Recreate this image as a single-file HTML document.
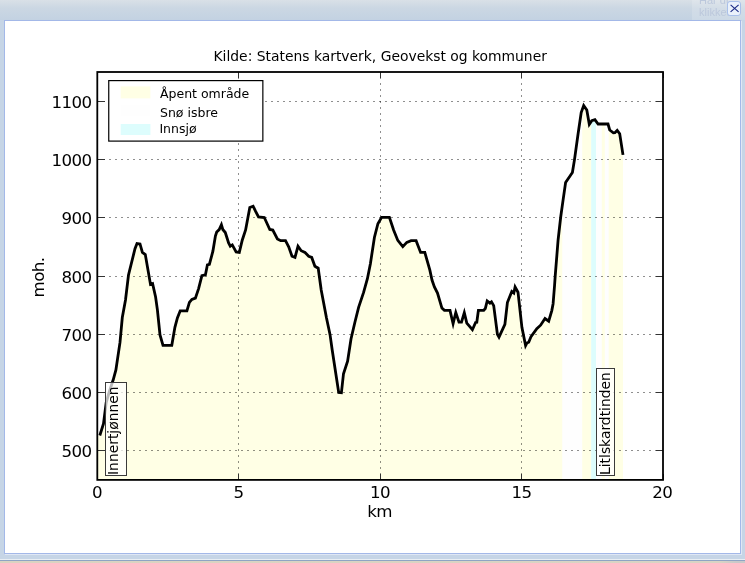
<!DOCTYPE html>
<html lang="no"><head><meta charset="utf-8"><title>Høydeprofil</title>
<style>
html,body{margin:0;padding:0}
body{width:745px;height:563px;overflow:hidden;position:relative;background:#c8d6e5;font-family:"DejaVu Sans","Liberation Sans",sans-serif}
#top{position:absolute;left:0;top:0;width:745px;height:20px;background:linear-gradient(to bottom,#d9e0e7 0,#cbd7e3 8px,#c3d2e2 20px)}
#frame{position:absolute;left:0;top:20px;width:745px;height:540px;background:#c6d5e6}
#bot{position:absolute;left:0;top:559px;width:745px;height:4px;background:linear-gradient(to bottom,#e8eef4 0,#e8eef4 1px,#8ea4c4 1px,#8ea4c4 2px,transparent 2px),linear-gradient(to right,#dad3c1 0,#d8d4c4 720px,#c9c9c9 736px)}
#win{position:absolute;left:4px;top:20px;width:735px;height:532px;background:#fff;border:1px solid #a3b8e8;box-shadow:1px 1px 0 #dfe7f5}
#hint{position:absolute;left:699px;top:-6.5px;font-family:"Liberation Sans",sans-serif;font-size:11px;line-height:12px;color:#bcc8dc;width:30px;overflow:hidden;white-space:nowrap}
#close{position:absolute;left:727px;top:1px;width:12px;height:13px;border:1px solid #a9c0ea;border-radius:3px;background:#eaf1fb}
#close svg{position:absolute;left:0;top:0}
svg text{font-family:"DejaVu Sans","Liberation Sans",sans-serif;fill:#000}
</style></head><body>
<div id="top"></div><div id="frame"></div><div id="bot"></div>
<div style="position:absolute;left:692px;top:0;width:53px;height:20px;background:rgba(255,255,255,0.16)"></div>
<div id="hint">Har du<br>klikket</div>
<div id="win"></div>
<div id="close"><svg width="12" height="12" viewBox="0 0 12 12" style="overflow:visible"><path d="M2.6 2.9 L10.6 9.9 M10.6 2.9 L2.6 9.9" stroke="#1b2a86" stroke-width="1.15" fill="none"/></svg></div>
<svg id="chart" width="745" height="563" viewBox="0 0 745 563" style="position:absolute;left:0;top:0">
<g>
<polygon points="97.0,480.0 97.0,435.5 99.8,435.5 103.5,423.7 106.2,402.5 109.2,392.0 113.3,379.5 115.9,369.9 120.0,342.4 122.3,317.5 125.5,300.0 128.5,275.0 135.0,248.7 137.0,243.5 140.0,243.9 142.4,252.4 145.3,254.6 150.5,284.4 152.6,283.6 155.6,297.0 157.4,309.9 160.0,335.0 163.0,345.3 171.8,345.3 174.9,327.3 177.4,318.0 180.2,310.8 186.9,310.8 189.4,302.4 191.9,299.4 195.4,298.1 198.6,288.6 201.9,275.7 205.4,274.9 207.4,264.9 209.4,264.4 212.9,251.2 215.4,236.0 216.7,232.0 219.2,229.6 221.4,224.7 222.8,229.5 225.3,232.5 228.6,242.9 230.3,246.2 232.3,244.9 236.1,251.9 239.3,252.4 242.3,240.0 245.6,230.0 249.8,207.5 253.1,206.2 255.5,211.2 258.5,217.0 264.3,217.5 269.8,229.5 272.8,230.0 277.4,239.0 280.7,240.7 285.5,240.7 288.7,246.9 292.0,256.2 295.0,257.4 298.0,246.2 301.2,250.7 305.0,252.4 308.7,256.2 311.7,257.4 314.9,266.2 318.2,268.2 321.2,289.9 326.5,318.0 330.0,334.4 332.2,350.0 338.7,392.5 341.4,392.8 343.5,373.7 347.6,361.2 351.0,339.0 354.9,322.3 358.6,307.4 363.6,292.4 367.4,278.7 370.4,263.7 374.4,237.5 377.9,223.7 381.6,217.3 389.4,217.3 393.6,230.0 397.8,240.4 402.8,246.7 406.8,242.4 411.1,240.7 416.1,240.7 420.6,252.4 424.8,252.4 429.8,269.9 432.0,280.0 434.4,286.9 437.5,293.1 441.9,308.1 444.4,310.4 450.0,310.4 453.1,323.7 455.8,312.5 459.0,322.2 461.5,322.2 464.3,312.7 466.8,323.1 472.4,329.7 475.6,322.4 476.8,322.2 478.4,310.4 483.7,310.4 485.3,308.5 487.2,301.0 489.9,303.1 491.5,301.8 493.7,305.6 497.4,334.3 499.0,337.1 504.9,324.3 507.4,302.5 508.4,300.0 511.8,291.5 513.8,293.1 515.1,287.0 518.0,292.2 521.9,327.4 525.6,345.5 526.9,343.0 528.7,342.2 531.0,336.8 536.8,328.7 540.6,325.2 545.0,318.5 548.7,321.2 551.8,310.6 553.1,303.7 554.6,285.0 555.2,276.2 558.1,240.0 560.7,217.0 562.5,204.2 562.5,480.0" fill="#ffffe5"/>
<polygon points="562.5,480.0 562.5,204.2 563.1,199.9 565.6,182.5 572.4,172.5 574.5,159.6 578.1,133.7 581.2,112.5 582.2,109.7 582.2,480.0" fill="#fefefe"/>
<polygon points="582.2,480.0 582.2,109.7 583.7,105.6 586.8,110.0 589.3,124.3 591.2,121.5 591.2,480.0" fill="#ffffe5"/>
<polygon points="591.2,480.0 591.2,121.5 591.8,120.6 594.9,119.7 596.0,121.2 596.0,480.0" fill="#ddfdfd"/>
<polygon points="596.0,480.0 596.0,121.2 598.1,124.0 601.8,124.0 601.8,480.0" fill="#fefefe"/>
<polygon points="601.8,480.0 601.8,124.0 604.9,124.0 604.9,480.0" fill="#ffffe5"/>
<polygon points="604.9,480.0 604.9,124.0 608.0,124.0 608.7,126.5 608.7,480.0" fill="#fefefe"/>
<polygon points="608.7,480.0 608.7,126.5 609.7,130.0 613.4,132.8 614.9,132.7 617.2,130.3 619.7,133.7 623.0,154.9 623.0,480.0" fill="#ffffe5"/>
</g>
<g stroke="#000" stroke-opacity="0.44" stroke-width="1" stroke-dasharray="2 4" shape-rendering="crispEdges">
<line x1="238.5" y1="72" x2="238.5" y2="480" stroke-dashoffset="1"/><line x1="380.5" y1="72" x2="380.5" y2="480" stroke-dashoffset="1"/><line x1="521.5" y1="72" x2="521.5" y2="480" stroke-dashoffset="1"/><line x1="97" y1="450.5" x2="663" y2="450.5"/><line x1="97" y1="392.5" x2="663" y2="392.5"/><line x1="97" y1="334.5" x2="663" y2="334.5"/><line x1="97" y1="276.5" x2="663" y2="276.5"/><line x1="97" y1="217.5" x2="663" y2="217.5"/><line x1="97" y1="159.5" x2="663" y2="159.5"/><line x1="97" y1="101.5" x2="663" y2="101.5"/>
</g>
<polyline points="99.8,435.5 103.5,423.7 106.2,402.5 109.2,392.0 113.3,379.5 115.9,369.9 120.0,342.4 122.3,317.5 125.5,300.0 128.5,275.0 135.0,248.7 137.0,243.5 140.0,243.9 142.4,252.4 145.3,254.6 150.5,284.4 152.6,283.6 155.6,297.0 157.4,309.9 160.0,335.0 163.0,345.3 171.8,345.3 174.9,327.3 177.4,318.0 180.2,310.8 186.9,310.8 189.4,302.4 191.9,299.4 195.4,298.1 198.6,288.6 201.9,275.7 205.4,274.9 207.4,264.9 209.4,264.4 212.9,251.2 215.4,236.0 216.7,232.0 219.2,229.6 221.4,224.7 222.8,229.5 225.3,232.5 228.6,242.9 230.3,246.2 232.3,244.9 236.1,251.9 239.3,252.4 242.3,240.0 245.6,230.0 249.8,207.5 253.1,206.2 255.5,211.2 258.5,217.0 264.3,217.5 269.8,229.5 272.8,230.0 277.4,239.0 280.7,240.7 285.5,240.7 288.7,246.9 292.0,256.2 295.0,257.4 298.0,246.2 301.2,250.7 305.0,252.4 308.7,256.2 311.7,257.4 314.9,266.2 318.2,268.2 321.2,289.9 326.5,318.0 330.0,334.4 332.2,350.0 338.7,392.5 341.4,392.8 343.5,373.7 347.6,361.2 351.0,339.0 354.9,322.3 358.6,307.4 363.6,292.4 367.4,278.7 370.4,263.7 374.4,237.5 377.9,223.7 381.6,217.3 389.4,217.3 393.6,230.0 397.8,240.4 402.8,246.7 406.8,242.4 411.1,240.7 416.1,240.7 420.6,252.4 424.8,252.4 429.8,269.9 432.0,280.0 434.4,286.9 437.5,293.1 441.9,308.1 444.4,310.4 450.0,310.4 453.1,323.7 455.8,312.5 459.0,322.2 461.5,322.2 464.3,312.7 466.8,323.1 472.4,329.7 475.6,322.4 476.8,322.2 478.4,310.4 483.7,310.4 485.3,308.5 487.2,301.0 489.9,303.1 491.5,301.8 493.7,305.6 497.4,334.3 499.0,337.1 504.9,324.3 507.4,302.5 508.4,300.0 511.8,291.5 513.8,293.1 515.1,287.0 518.0,292.2 521.9,327.4 525.6,345.5 526.9,343.0 528.7,342.2 531.0,336.8 536.8,328.7 540.6,325.2 545.0,318.5 548.7,321.2 551.8,310.6 553.1,303.7 554.6,285.0 555.2,276.2 558.1,240.0 560.7,217.0 563.1,199.9 565.6,182.5 572.4,172.5 574.5,159.6 578.1,133.7 581.2,112.5 583.7,105.6 586.8,110.0 589.3,124.3 591.8,120.6 594.9,119.7 598.1,124.0 608.0,124.0 609.7,130.0 613.4,132.8 614.9,132.7 617.2,130.3 619.7,133.7 623.0,154.9" fill="none" stroke="#000" stroke-width="2.8" stroke-linejoin="miter" stroke-miterlimit="6" stroke-linecap="butt"/>
<g stroke="#333" stroke-width="1" shape-rendering="crispEdges">
<line x1="97.5" y1="480" x2="97.5" y2="474"/><line x1="97.5" y1="72" x2="97.5" y2="78"/><line x1="238.5" y1="480" x2="238.5" y2="474"/><line x1="238.5" y1="72" x2="238.5" y2="78"/><line x1="380.5" y1="480" x2="380.5" y2="474"/><line x1="380.5" y1="72" x2="380.5" y2="78"/><line x1="521.5" y1="480" x2="521.5" y2="474"/><line x1="521.5" y1="72" x2="521.5" y2="78"/><line x1="663.5" y1="480" x2="663.5" y2="474"/><line x1="663.5" y1="72" x2="663.5" y2="78"/><line x1="97" y1="450.5" x2="104.5" y2="450.5"/><line x1="663" y1="450.5" x2="656" y2="450.5"/><line x1="97" y1="392.5" x2="104.5" y2="392.5"/><line x1="663" y1="392.5" x2="656" y2="392.5"/><line x1="97" y1="334.5" x2="104.5" y2="334.5"/><line x1="663" y1="334.5" x2="656" y2="334.5"/><line x1="97" y1="276.5" x2="104.5" y2="276.5"/><line x1="663" y1="276.5" x2="656" y2="276.5"/><line x1="97" y1="217.5" x2="104.5" y2="217.5"/><line x1="663" y1="217.5" x2="656" y2="217.5"/><line x1="97" y1="159.5" x2="104.5" y2="159.5"/><line x1="663" y1="159.5" x2="656" y2="159.5"/><line x1="97" y1="101.5" x2="104.5" y2="101.5"/><line x1="663" y1="101.5" x2="656" y2="101.5"/>
</g>
<rect x="97.3" y="72" width="565.7" height="407.9" fill="none" stroke="#000" stroke-width="1.8"/>
<g font-size="16.67" letter-spacing="-0.6"><text x="97.0" y="498.2" text-anchor="middle">0</text><text x="238.5" y="498.2" text-anchor="middle">5</text><text x="380.0" y="498.2" text-anchor="middle">10</text><text x="521.5" y="498.2" text-anchor="middle">15</text><text x="662.2" y="498.2" text-anchor="middle">20</text><text x="91.5" y="457.4" text-anchor="end">500</text><text x="91.5" y="399.1" text-anchor="end">600</text><text x="91.5" y="340.8" text-anchor="end">700</text><text x="91.5" y="282.5" text-anchor="end">800</text><text x="91.5" y="224.2" text-anchor="end">900</text><text x="91.5" y="165.9" text-anchor="end">1000</text><text x="91.5" y="107.6" text-anchor="end">1100</text>
<text x="379.5" y="516.8" text-anchor="middle">km</text>
<text transform="translate(44,277.5) rotate(-90)" text-anchor="middle">moh.</text>
</g>
<text x="380.2" y="60.7" text-anchor="middle" font-size="13.89">Kilde: Statens kartverk, Geovekst og kommuner</text>
<!-- legend -->
<rect x="108.75" y="80.6" width="154.1" height="60.5" fill="#fff" stroke="#000" stroke-width="1.2"/>
<rect x="120.7" y="86.4" width="29.7" height="12" fill="#ffffe5"/>
<rect x="120.7" y="105.5" width="29.7" height="10.5" fill="#fefefe"/>
<rect x="120.7" y="124" width="29.7" height="11" fill="#ddfdfd"/>
<g font-size="12.5">
<text x="160" y="97.7">Åpent område</text>
<text x="160" y="117.3">Snø isbre</text>
<text x="159.4" y="132.7">Innsjø</text>
</g>
<!-- annotations -->
<rect x="105.5" y="382.5" width="21" height="93" fill="#fff" fill-opacity="0.72" stroke="#3a3a3a" stroke-width="1"/>
<text transform="translate(117.9,475) rotate(-90)" font-size="13.89">Innertjønnen</text>
<rect x="596.5" y="368.5" width="18" height="107" fill="#fff" fill-opacity="0.72" stroke="#3a3a3a" stroke-width="1"/>
<text transform="translate(609.6,475) rotate(-90)" font-size="13.89">Litlskardtinden</text>
</svg>
</body></html>
